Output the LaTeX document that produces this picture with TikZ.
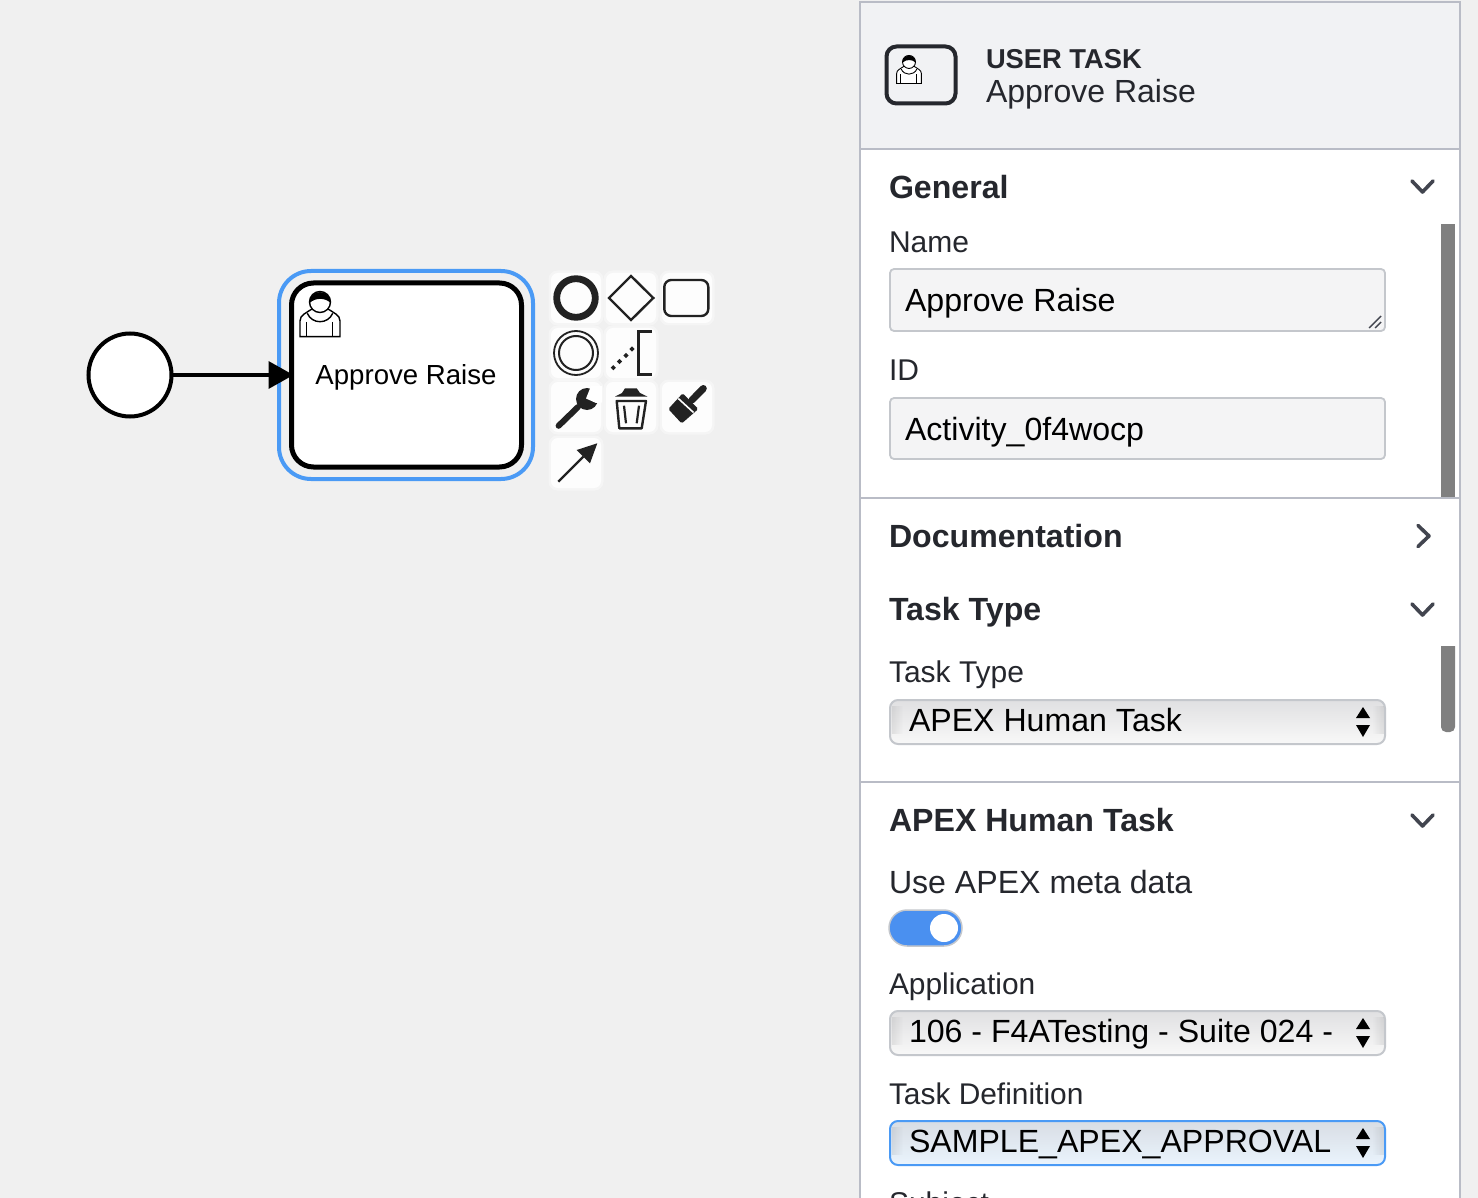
\documentclass[tikz,border=0pt]{standalone}
\usepackage{fontspec}
\setmainfont{Liberation Sans}
\usetikzlibrary{arrows.meta,fadings}
\definecolor{canvasbg}{HTML}{F0F0F0}
\definecolor{headbg}{HTML}{F1F2F4}
\definecolor{panelline}{HTML}{B9BCC6}
\definecolor{inputbg}{HTML}{F4F4F5}
\definecolor{inputline}{HTML}{C4C7CC}
\definecolor{ink}{HTML}{25272D}
\definecolor{chev}{HTML}{42454F}
\definecolor{selblue}{HTML}{4A9AF5}
\definecolor{togblue}{HTML}{4A90F0}
\definecolor{scrollc}{HTML}{808080}
\definecolor{icon}{HTML}{222222}
\definecolor{greyT}{HTML}{E0E0E2}
\definecolor{greyM}{HTML}{E4E4E6}
\definecolor{greyB}{HTML}{F8F8F8}
\definecolor{blueT}{HTML}{D8DDE4}
\definecolor{blueM}{HTML}{DDE3EA}
\definecolor{blueB}{HTML}{EAF4FD}
\newcommand\fs[1]{\fontsize{#1}{#1}\selectfont}
\tikzset{
  lbl/.style={anchor=base west,inner sep=0pt,outer sep=0pt,text=ink},
  ttl/.style={lbl,font=\fs{32.1}\bfseries},
  fieldlbl/.style={lbl,font=\fs{30}},
  seltxt/.style={lbl,text=black,font=\fs{32.1}},
  inputbox/.style={draw=inputline,line width=1.8pt,fill=inputbg,rounded corners=4pt,minimum width=495pt,inner sep=0pt,outer sep=0pt},
  selectbox/.style={draw=inputline,line width=2pt,rounded corners=8pt,minimum width=495pt,minimum height=44pt,inner sep=0pt,outer sep=0pt,top color=greyT,middle color=greyM,bottom color=greyB},
  selectfocus/.style={selectbox,draw=selblue,top color=blueT,middle color=blueM,bottom color=blueB},
  halo/.style={fill=white,opacity=.85,rounded corners=7pt,minimum width=50pt,minimum height=50pt,inner sep=0pt},
  haloedge/.style={fill=white,opacity=.35,rounded corners=9pt,minimum width=55pt,minimum height=55pt,inner sep=0pt},
  chevron/.style={draw=chev,line width=3.6pt,line cap=round,line join=round},
  sym/.style={draw=icon,line width=2.4pt},
  stepper/.style={fill=black},
  pics/usericon/.style={code={
    \draw[black,line width=#1,fill=white] (-20,21.7) -- (-20,6) .. controls (-20,0) and (-14,-2) .. (-8,-6) -- (8,-6) .. controls (14,-2) and (20,0) .. (20,6) -- (20,21.7) -- cycle;
    \draw[black,line width=#1,fill=white] (-12.7,-1.7) .. controls (-8,9.5) and (8,9.5) .. (12.7,-1.7);
    \draw[black,line width=#1] (-13.3,7) -- (-13.3,21.7) (12.7,7) -- (12.7,21.7);
    \draw[black,line width=#1,fill=white] (0,-13) circle[radius=10.5];
    \fill[black] (-10.5,-12) .. controls (-10.5,-26.5) and (10.5,-26.5) .. (10.5,-12) .. controls (6,-17) and (-4,-18) .. cycle;
  }}
}
\begin{document}
\begin{tikzpicture}[x=1pt,y=-1pt]
\useasboundingbox (0,0) rectangle (1478,1198);
\clip (0,0) rectangle (1478,1198);
\fill[canvasbg] (0,0) rectangle (1478,1198);

% --- canvas ---
\node[draw=selblue,line width=4pt,rounded corners=32pt,minimum width=254pt,minimum height=208pt,inner sep=0pt] (selection) at (406,375) {};
\node[draw=black,fill=white,line width=5pt,rounded corners=22pt,minimum width=230pt,minimum height=184pt,inner sep=0pt,outer sep=0pt] (task) at (406.5,375) {};
\node[font=\fs{27.6},text=black,inner sep=0pt] (tasklabel) at (406,377) {Approve Raise};
\pic[scale=1] at (320,315) {usericon=1.4pt};
\node[draw=black,fill=white,circle,line width=4pt,minimum size=83pt,inner sep=0pt,outer sep=0pt] (start) at (130,375) {};
\draw[black,line width=3.5pt,shorten >=-2pt,-{Triangle[length=25pt,width=27pt]}] (start) -- (task);

% --- context pad ---
\foreach \hn/\hx/\hy in {h1/576/298,h2/631/298,h3/687/298,h4/576/353,h5/631/353,h6/576/407,h7/631/407,h8/687/407,h9/576/463}{
  \node[haloedge] (e\hn) at (\hx,\hy) {};
  \node[halo] (\hn) at (\hx,\hy) {};
}
\draw[icon,line width=6.8pt] (576,298) circle[radius=19.3];
\draw[sym] (609,298) -- (631,276) -- (653.3,298) -- (631,320) -- cycle;
\draw[sym,rounded corners=7pt] (664.3,280) rectangle (708.3,316);
\draw[icon,line width=1.8pt] (576,353) circle[radius=22];
\draw[icon,line width=2pt] (576,353) circle[radius=17];
\draw[sym] (651.7,331.7) -- (638.3,331.7) -- (638.3,374.3) -- (651.7,374.3);
\foreach \dx/\dy in {613.3/367.7,619.5/361.5,626/355.5,632/349}{
  \fill[icon] (\dx-2.6,\dy) -- (\dx,\dy-2.6) -- (\dx+2.6,\dy) -- (\dx,\dy+2.6) -- cycle;
}
\draw[icon,line width=6pt,line cap=round] (558.6,425.8) -- (578,407);
\fill[icon] (587,399) circle[radius=11];
\fill[white] (586,398.5) -- (591,386) -- (602,386) -- (602,402.5) -- (596,403) -- cycle;
\fill[icon] (625,388.3) -- (636.7,388.3) -- (640,393) -- (647.3,396.5) -- (615,396.5) -- (622,393) -- cycle;
\draw[sym,line join=round] (616.7,401) -- (646,401) -- (641.7,428.3) -- (619.3,428.3) -- cycle;
\draw[icon,line width=2.2pt] (624,405.7) -- (626,423.3) (639,405.7) -- (636.7,423.3);
\fill[icon,rounded corners=1.5pt] (668.3,409) -- (682.7,393.3) -- (698.3,409) -- (681.7,423.5) -- cycle;
\draw[white,line width=1.6pt] (678.3,398.5) -- (693.5,412.5);
\draw[icon,line width=7pt,line cap=round] (692,400) -- (703.3,388.5);
\draw[icon,line width=2.4pt] (558.3,481.7) -- (583.3,456.7);
\fill[icon] (597.3,443.3) -- (576.7,450) -- (583.3,456.7) -- (590,463.3) -- cycle;

% --- properties panel ---
\fill[white] (860,2) rectangle (1460,1198);
\fill[headbg] (860,2) rectangle (1460,149);
\draw[panelline,line width=2pt] (860,1198) -- (860,2) -- (1460,2) -- (1460,1198);
\draw[panelline,line width=2pt] (860,149) -- (1460,149) (860,498) -- (1460,498) (860,782) -- (1460,782);

\fill[scrollc] (1441,224) rectangle (1455,497);
\fill[scrollc,rounded corners=5pt] (1441,640) rectangle (1455,732);
\fill[white] (1439,634) rectangle (1457,646);

\node[draw=ink,line width=4pt,rounded corners=10pt,minimum width=69pt,minimum height=57pt,inner sep=0pt] (headicon) at (921,75) {};
\pic[scale=.62] at (909,70) {usericon=.9pt};
\node[lbl,font=\fs{27.3}\bfseries] (headtype) at (986,68.5) {USER TASK};
\node[lbl,font=\fs{32}] (headname) at (986,103) {Approve Raise};

\node[ttl] (secgeneral) at (889,199) {General};
\draw[chevron] (1412,181) -- (1422.5,192) -- (1433,181);
\node[fieldlbl] (lblname) at (889,253) {Name};
\node[inputbox,minimum height=62pt] (inname) at (1137.5,300) {};
\node[lbl,text=black,font=\fs{32.1}] (valname) at (905,312) {Approve Raise};
\draw[chev,line width=1.4pt] (1369,328) -- (1381,316) (1375,328) -- (1381,322);
\node[fieldlbl] (lblid) at (889,380) {ID};
\node[inputbox,minimum height=61pt] (inid) at (1137.5,428.5) {};
\node[lbl,text=black,font=\fs{32.1}] (valid) at (905,440) {Activity\_0f4wocp};

\node[ttl] (secdoc) at (889,547) {Documentation};
\draw[chevron] (1418,525.5) -- (1429,536) -- (1418,546.5);
\node[ttl] (sectype) at (889,620) {Task Type};
\draw[chevron] (1412,604) -- (1422.5,615) -- (1433,604);
\node[fieldlbl] (lbltype) at (889,682) {Task Type};
\node[selectbox] (seltype) at (1137.5,722) {};
\node[seltxt] (valtype) at (909,731) {APEX Human Task};
\fill[stepper] (1356,718) -- (1363,707) -- (1370,718) -- cycle (1356,725) -- (1363,737) -- (1370,725) -- cycle;

\node[ttl] (secapex) at (889,831) {APEX Human Task};
\draw[chevron] (1412,815) -- (1422.5,826) -- (1433,815);
\node[lbl,font=\fs{32.1}] (lblmeta) at (889,893.5) {Use APEX meta data};
\node[draw=inputline,line width=1.5pt,fill=togblue,rounded corners=18pt,minimum width=73pt,minimum height=36pt,inner sep=0pt] (toggle) at (925.5,928) {};
\node[circle,fill=white,minimum size=28pt,inner sep=0pt] (knob) at (944,928) {};
\node[lbl,font=\fs{29.9}] (lblapp) at (889,994) {Application};
\node[selectbox] (selapp) at (1137.5,1033) {};
\node[seltxt] (valapp) at (909,1042) {106 - F4ATesting - Suite 024 -};
\fill[stepper] (1356,1029) -- (1363,1018) -- (1370,1029) -- cycle (1356,1036) -- (1363,1048) -- (1370,1036) -- cycle;
\node[lbl,font=\fs{29.9}] (lbldef) at (889,1104) {Task Definition};
\node[selectfocus] (seldef) at (1137.5,1143) {};
\node[seltxt] (valdef) at (909,1152) {SAMPLE\_APEX\_APPROVAL};
\fill[stepper] (1356,1139) -- (1363,1128) -- (1370,1139) -- cycle (1356,1146) -- (1363,1158) -- (1370,1146) -- cycle;
\node[fieldlbl] (lblsubject) at (889,1213) {Subject};

% soft inner shadow at the two ends of each select
\foreach \sy in {722,1033,1143}{
  \fill[black,opacity=.08,path fading=east] (891.5,\sy-16) rectangle (903,\sy+12);
  \fill[black,opacity=.08,path fading=west] (1372,\sy-16) rectangle (1383.5,\sy+12);
}
\end{tikzpicture}
\end{document}
